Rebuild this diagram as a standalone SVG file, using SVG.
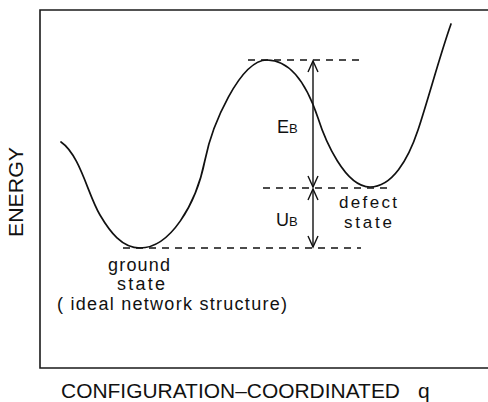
<svg xmlns="http://www.w3.org/2000/svg" width="488" height="402" viewBox="0 0 488 402">
<style>
  .frame{fill:none;stroke:#1a1a1a;stroke-width:1.6}
  .curve{fill:none;stroke:#111;stroke-width:1.7;stroke-linecap:round}
  .dash{fill:none;stroke:#111;stroke-width:1.3;stroke-dasharray:7 6}
  .arr{fill:none;stroke:#111;stroke-width:1.4}
  text{font-family:"Liberation Sans",Arial,sans-serif;fill:#111}
  .lbl{font-size:18px}
  .sm{font-size:17px}
  .ax{font-size:21px}
</style>
<rect width="488" height="402" fill="#fff"/>
<g id="frame">
  <path class="frame" d="M488,10 L40,10 L40,368 L488,368"/>
</g>
<g id="energy-curve">
  <path class="curve" d="M61,142 C80,155 88,195 100,215 C110,232 122,248 140,248 C170,248 196,205 205,160 C212,125 240,60 267,60 C292,60 308,88 318,118 C325,140 345,187 370,187 C392,187 408,160 418,130 C428,100 440,55 451,24"/>
</g>
<g id="connectors">
  <line class="dash" x1="248" y1="60" x2="361" y2="60"/>
  <line class="dash" x1="263" y1="188" x2="393" y2="188"/>
  <line class="dash" x1="123" y1="248" x2="361" y2="248"/>
  <g id="arrow-EB">
    <line class="arr" x1="313" y1="61" x2="313" y2="187"/>
    <path class="arr" d="M308,72 L313,61 L318,72 M308,176 L313,187 L318,176"/>
  </g>
  <g id="arrow-UB">
    <line class="arr" x1="313" y1="189" x2="313" y2="247"/>
    <path class="arr" d="M308,200 L313,189 L318,200 M308,236 L313,247 L318,236"/>
  </g>
</g>
<g id="label-EB">
  <text x="277" y="133" font-size="18">E<tspan font-size="13">B</tspan></text>
</g>
<g id="label-UB">
  <text x="276" y="226" font-size="18">U<tspan font-size="13">B</tspan></text>
</g>
<g id="node-defect">
  <text class="sm" x="368" y="208" text-anchor="middle" textLength="58" lengthAdjust="spacing">defect</text>
  <text class="sm" x="368" y="228" text-anchor="middle" textLength="48" lengthAdjust="spacing">state</text>
</g>
<g id="node-ground">
  <text class="lbl" x="139" y="271" text-anchor="middle" textLength="62" lengthAdjust="spacing">ground</text>
  <text class="lbl" x="141" y="290" text-anchor="middle" textLength="48" lengthAdjust="spacing">state</text>
  <text class="lbl" x="57" y="310" textLength="230" lengthAdjust="spacing">( ideal network structure)</text>
</g>
<g id="axes">
  <text class="ax" transform="translate(23,192) rotate(-90)" text-anchor="middle" textLength="90" lengthAdjust="spacingAndGlyphs">ENERGY</text>
  <text class="ax" x="61" y="398" textLength="339" lengthAdjust="spacingAndGlyphs">CONFIGURATION–COORDINATED</text>
  <text class="ax" x="418" y="398">q</text>
</g>
</svg>
